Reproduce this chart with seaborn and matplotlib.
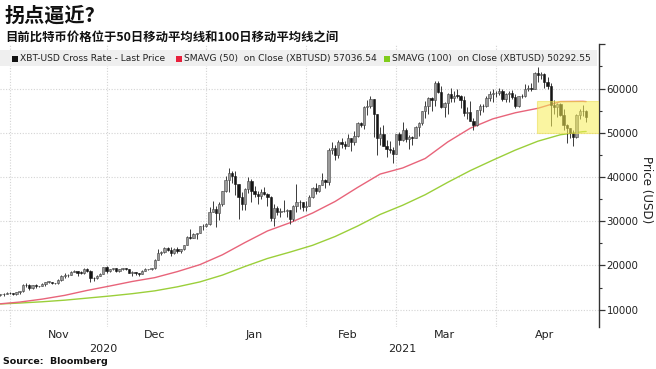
import numpy as np
import pandas as pd
import matplotlib
matplotlib.use("Agg")
import matplotlib.pyplot as plt
import matplotlib.dates as mdates
from matplotlib.patches import Rectangle
from matplotlib.ticker import FixedLocator, MultipleLocator
import seaborn as sns

# ---------------- data (prices in thousands of USD) ----------------
start_date = "2020-10-29"

open_k = [13.27, 13.46, 13.56,
          13.80, 13.74, 13.55, 13.95, 14.13, 15.58, 15.57, 14.83, 15.48, 15.33, 15.29, 15.70, 16.28, 16.32, 16.07,
          15.96, 16.72, 17.65, 17.80, 17.82, 18.62, 18.64, 18.37, 18.36, 19.11, 18.73, 17.15, 17.11, 17.72, 18.18,
          19.63, 18.80, 19.20, 19.45, 18.70, 19.15, 19.35, 19.19, 18.32, 18.55, 18.26, 18.06, 18.80, 19.14, 19.25,
          19.42, 21.31, 22.81, 23.14, 23.87, 23.48, 22.80, 23.78, 23.24, 23.74, 24.67, 26.44, 26.27, 27.08, 27.36, 28.84,
          29.00, 29.37, 32.13, 32.78, 31.97, 33.99, 36.82, 39.37, 40.80, 40.25, 38.36, 35.57, 33.92, 37.32, 39.19,
          36.83, 36.18, 35.79, 36.63, 36.07, 35.55, 30.83, 33.01, 32.07, 32.29, 32.37, 32.57, 30.43, 33.47, 34.32, 34.27,
          33.12, 33.54, 35.51, 37.47, 36.93, 38.14, 39.27, 38.90, 46.20, 46.48, 44.92, 47.91, 47.51, 47.11, 48.72,
          47.95, 49.20, 52.15, 51.68, 55.89, 56.10, 57.54, 54.21, 48.83, 49.71, 47.09, 46.34, 46.19,
          45.14, 49.63, 48.38, 50.54, 48.56, 48.93, 48.91, 51.21, 52.25, 54.82, 56.01, 57.81, 57.33, 61.24, 59.30,
          55.91, 56.80, 58.87, 57.86, 58.35, 58.31, 57.52, 54.53, 54.74, 52.77, 51.70, 55.14, 55.97, 55.95, 57.75, 58.80,
          58.92, 59.10, 59.38, 57.60, 58.76, 59.06, 58.19, 56.05, 58.32, 58.25, 59.79, 60.20, 59.89, 63.50, 63.11,
          63.32, 61.57, 60.68, 56.22, 55.72, 56.47, 53.91, 51.76, 51.09, 50.05, 49.00, 54.02, 55.03, 54.82]

high_k = [13.64, 13.68, 14.07,
          13.90, 13.82, 14.03, 14.23, 15.71, 15.96, 15.77, 15.65, 15.83, 15.46, 15.95, 16.33, 16.48, 16.32, 16.14,
          16.89, 17.82, 18.39, 18.11, 18.82, 18.92, 18.69, 18.75, 19.35, 19.37, 18.92, 17.46, 17.85, 18.28, 19.75,
          19.92, 19.31, 19.53, 19.50, 19.16, 19.40, 19.39, 19.29, 18.64, 18.56, 18.27, 18.92, 19.38, 19.31, 19.53,
          21.46, 23.64, 23.24, 24.09, 24.26, 24.06, 23.84, 24.09, 23.77, 24.71, 26.72, 28.29, 27.39, 27.37, 28.94, 29.30,
          29.60, 33.16, 34.61, 33.44, 34.44, 36.88, 40.18, 41.95, 41.38, 41.34, 38.40, 36.57, 37.60, 40.00, 39.63,
          37.86, 36.79, 37.30, 37.85, 36.42, 35.60, 33.81, 33.44, 32.94, 34.80, 32.75, 32.58, 33.76, 38.41, 34.88, 34.30,
          34.68, 35.87, 37.66, 38.59, 38.26, 40.85, 39.62, 46.45, 48.00, 47.15, 48.46, 48.87, 48.05, 49.72, 48.88,
          50.51, 52.53, 52.49, 56.11, 57.51, 58.33, 57.54, 54.25, 51.29, 51.77, 48.27, 48.25, 46.72,
          49.78, 50.13, 52.54, 51.10, 49.43, 49.20, 51.45, 52.37, 54.90, 57.26, 58.11, 58.01, 61.68, 61.60, 60.54,
          56.91, 58.97, 60.13, 59.45, 59.88, 58.59, 58.39, 55.85, 57.17, 53.23, 55.20, 56.57, 56.56, 58.40, 59.35, 59.80,
          59.47, 60.04, 59.89, 58.91, 59.45, 59.60, 58.73, 58.36, 58.77, 61.09, 60.69, 61.20, 63.76, 64.86, 63.82,
          63.59, 62.50, 61.21, 57.47, 56.82, 56.71, 55.44, 52.03, 51.17, 50.54, 54.35, 55.44, 56.37, 55.19]

low_k = [12.99, 13.13, 13.53,
         13.62, 13.24, 13.29, 13.53, 14.10, 15.21, 14.42, 14.73, 14.81, 15.09, 15.28, 15.44, 15.99, 15.72, 15.87,
         15.87, 16.57, 17.21, 17.34, 17.76, 18.43, 17.70, 18.02, 18.08, 18.60, 16.33, 16.56, 16.88, 17.52, 18.17,
         18.32, 18.59, 18.95, 18.62, 18.59, 18.92, 18.92, 18.27, 17.65, 17.91, 17.61, 18.04, 18.73, 19.00, 19.07,
         19.30, 21.23, 22.35, 22.83, 23.25, 22.16, 22.63, 22.80, 22.75, 23.46, 24.52, 25.92, 26.22, 25.99, 27.36, 28.00,
         28.80, 29.09, 32.05, 28.72, 30.22, 33.51, 36.50, 36.62, 38.72, 35.92, 30.55, 32.53, 32.58, 36.45, 34.45,
         35.38, 33.88, 34.96, 35.96, 33.43, 30.07, 28.95, 31.46, 30.97, 32.11, 30.87, 29.48, 30.03, 32.11, 32.87, 32.27,
         32.32, 33.44, 35.36, 36.20, 36.66, 38.14, 37.45, 38.08, 45.17, 43.87, 44.19, 46.50, 46.40, 47.02, 45.98,
         47.16, 48.97, 51.19, 50.94, 54.02, 55.61, 48.97, 45.00, 47.21, 47.05, 44.45, 45.32, 43.24,
         45.11, 47.23, 48.13, 47.86, 46.30, 47.17, 48.87, 49.29, 51.84, 53.29, 54.27, 54.96, 56.08, 59.03, 55.49,
         53.56, 54.15, 57.02, 56.97, 57.83, 55.49, 53.83, 53.08, 52.58, 50.55, 51.55, 53.96, 54.73, 55.90, 57.29, 56.94,
         58.00, 58.52, 57.17, 57.03, 56.96, 57.72, 55.60, 55.88, 57.80, 58.00, 59.37, 59.39, 59.89, 61.55, 62.21,
         60.22, 59.84, 51.56, 54.26, 53.61, 53.69, 50.55, 47.71, 48.81, 47.04, 48.87, 53.21, 53.89, 52.44]

close_k = [13.46, 13.56, 13.80,
           13.74, 13.55, 13.95, 14.13, 15.58, 15.57, 14.83, 15.48, 15.33, 15.29, 15.70, 16.28, 16.32, 16.07, 15.96,
           16.72, 17.65, 17.80, 17.82, 18.62, 18.64, 18.37, 18.36, 19.11, 18.73, 17.15, 17.11, 17.72, 18.18, 19.63,
           18.80, 19.20, 19.45, 18.70, 19.15, 19.35, 19.19, 18.32, 18.55, 18.26, 18.06, 18.80, 19.14, 19.25, 19.42,
           21.31, 22.81, 23.14, 23.87, 23.48, 22.80, 23.78, 23.24, 23.74, 24.67, 26.44, 26.27, 27.08, 27.36, 28.84, 29.00,
           29.37, 32.13, 32.78, 31.97, 33.99, 36.82, 39.37, 40.80, 40.25, 38.36, 35.57, 33.92, 37.32, 39.19, 36.83,
           36.18, 35.79, 36.63, 36.07, 35.55, 30.83, 33.01, 32.07, 32.29, 32.37, 32.57, 30.43, 33.47, 34.32, 34.27, 33.12,
           33.54, 35.51, 37.47, 36.93, 38.14, 39.27, 38.90, 46.20, 46.48, 44.92, 47.91, 47.51, 47.11, 48.72, 47.95,
           49.20, 52.15, 51.68, 55.89, 56.10, 57.54, 54.21, 48.83, 49.71, 47.09, 46.34, 46.19, 45.14,
           49.63, 48.38, 50.54, 48.56, 48.93, 48.91, 51.21, 52.25, 54.82, 56.01, 57.81, 57.33, 61.24, 59.30, 55.91,
           56.80, 58.87, 57.86, 58.35, 58.31, 57.52, 54.53, 54.74, 52.77, 51.70, 55.14, 55.97, 55.95, 57.75, 58.80, 58.92,
           59.10, 59.38, 57.60, 58.76, 59.06, 58.19, 56.05, 58.32, 58.25, 59.79, 60.20, 59.89, 63.50, 63.11, 63.32,
           61.57, 60.68, 56.22, 55.72, 56.47, 53.91, 51.76, 51.09, 50.05, 49.00, 54.02, 55.03, 54.82, 53.56]

sma_dates = ["2020-10-29", "2020-11-04", "2020-11-11", "2020-11-18", "2020-11-25", "2020-12-02", "2020-12-09",
             "2020-12-16", "2020-12-23", "2020-12-30", "2021-01-06", "2021-01-13", "2021-01-20", "2021-01-27",
             "2021-02-03", "2021-02-10", "2021-02-17", "2021-02-24", "2021-03-03", "2021-03-10", "2021-03-17",
             "2021-03-24", "2021-03-31", "2021-04-07", "2021-04-14", "2021-04-21", "2021-04-28", "2021-04-29"]
sma50_k = [11.33, 11.72, 12.39, 13.24, 14.36, 15.35, 16.38, 17.25, 18.61, 20.18, 22.41, 25.18, 27.80, 29.66,
           31.85, 34.46, 37.64, 40.66, 42.04, 44.18, 47.92, 51.03, 53.14, 54.52, 55.53, 57.05, 57.10, 57.04]
sma100_k = [11.29, 11.50, 11.79, 12.15, 12.62, 13.09, 13.62, 14.26, 15.17, 16.28, 17.82, 19.77, 21.58, 23.02,
            24.55, 26.54, 28.91, 31.53, 33.61, 35.99, 38.79, 41.44, 43.80, 46.08, 48.09, 49.55, 50.25, 50.29]

legend_labels = ["XBT-USD Cross Rate - Last Price",
                 "SMAVG (50)  on Close (XBTUSD) 57036.54",
                 "SMAVG (100)  on Close (XBTUSD) 50292.55"]
y_ticks = [10000, 20000, 30000, 40000, 50000, 60000, 70000]
month_labels = ["Nov", "Dec", "Jan", "Feb", "Mar", "Apr"]
year_labels = ["2020", "2021"]

# ---------------- frames ----------------
dates = pd.date_range(start_date, periods=len(close_k), freq="D")
px = pd.DataFrame({"date": dates,
                   "open": np.array(open_k) * 1000, "high": np.array(high_k) * 1000,
                   "low": np.array(low_k) * 1000, "close": np.array(close_k) * 1000})
sma = pd.DataFrame({"date": pd.to_datetime(sma_dates),
                    "sma50": np.array(sma50_k) * 1000, "sma100": np.array(sma100_k) * 1000})

# ---------------- style ----------------
sns.set_theme(style="white")
plt.rcParams["font.family"] = ["DejaVu Sans", "Noto Sans CJK SC"]

W, H = 656, 369
fig = plt.figure(figsize=(W / 100, H / 100), dpi=100)
fig.patch.set_facecolor("white")

ax_bottom = (H - 327.2) / H
ax_top = (H - 44.3) / H
ax_h_px = 327.2 - 44.3
ax = fig.add_axes([0, ax_bottom, 599 / W, ax_top - ax_bottom])
ax.set_facecolor("white")

x0 = mdates.date2num(pd.Timestamp("2020-11-01")) - 3.1
x1 = mdates.date2num(pd.Timestamp("2021-05-03"))
ax.set_xlim(x0, x1)
ax.set_ylim(6040, 70000)

# grid
for yv in y_ticks[:-1]:
    ax.axhline(yv, color="#d4d4d4", lw=0.8, ls=(0, (1, 1.5)), zorder=0)
for m in pd.date_range("2020-11-01", "2021-04-01", freq="MS"):
    ax.axvline(mdates.date2num(m), color="#d4d4d4", lw=0.8, ls=(0, (1, 1.5)), zorder=0)

# SMA lines
sns.lineplot(data=sma, x="date", y="sma100", color="#9bcf3a", lw=1.0, ax=ax, zorder=2)
sns.lineplot(data=sma, x="date", y="sma50", color="#e8647a", lw=1.0, ax=ax, zorder=2)

# candles
dn = mdates.date2num(px["date"])
up = px["close"] >= px["open"]
ax.vlines(dn, px["low"], px["high"], color="#3a3a3a", lw=0.7, zorder=3)
body_bot = np.minimum(px["open"], px["close"])
body_h = np.maximum(np.abs(px["close"] - px["open"]), 120)
ax.bar(dn, body_h, bottom=body_bot, width=0.72,
       color=np.where(up, "#9a9a9a", "#151515"),
       edgecolor=np.where(up, "#454545", "#151515"), linewidth=0.4, zorder=4)

# highlight box
hx0 = mdates.date2num(pd.Timestamp("2021-04-13")) + 0.7
ax.add_patch(Rectangle((hx0, 50000), x1 - hx0, 7200, facecolor="#f7ee55", alpha=0.55,
                       edgecolor="#eadc4a", lw=0.8, zorder=5))

# axes styling
for s in ["left", "top", "bottom"]:
    ax.spines[s].set_visible(False)
ax.spines["right"].set_color("#333333")
ax.spines["right"].set_linewidth(1.0)
ax.yaxis.tick_right()
ax.yaxis.set_major_locator(FixedLocator(y_ticks))
ax.set_yticklabels([str(v) for v in y_ticks[:-1]] + [""])
ax.yaxis.set_minor_locator(MultipleLocator(5000))
ax.tick_params(axis="y", which="major", direction="out", length=4, width=0.9, color="#333333",
               labelsize=7.4, labelcolor="#222222", pad=1.5, right=True, left=False)
ax.tick_params(axis="y", which="minor", direction="out", length=2.5, width=0.8, color="#333333",
               right=True, left=False)
ax.set_ylabel("")
ax.set_xlabel("")
ax.set_xticks([])

# month / year labels
mid_days = pd.to_datetime(["2020-11-16", "2020-12-16", "2021-01-16", "2021-02-14", "2021-03-16", "2021-04-16"])
for d, lab in zip(mid_days, month_labels):
    ax.text(mdates.date2num(d), -8.0 / ax_h_px, lab, transform=ax.get_xaxis_transform(),
            ha="center", va="center", fontsize=8, color="#222222")
yr_x = [(x0 + mdates.date2num(pd.Timestamp("2021-01-01"))) / 2,
        (mdates.date2num(pd.Timestamp("2021-01-01")) + x1) / 2]
for xv, lab in zip(yr_x, year_labels):
    ax.text(xv, -21.5 / ax_h_px, lab, transform=ax.get_xaxis_transform(),
            ha="center", va="center", fontsize=8, color="#222222")

# y axis title
fig.text(647 / W, 1 - 190 / H, "Price (USD)", rotation=270, ha="center", va="center",
         fontsize=8.6, color="#222222")

# legend bar
lg = fig.add_axes([0, 1 - 66 / H, 597 / W, 16 / H])
lg.set_facecolor("#efefef")
for s in lg.spines.values():
    s.set_visible(False)
lg.set_xticks([]); lg.set_yticks([])
lg.set_xlim(0, 597); lg.set_ylim(0, 16)
sq = [(12, "#111111"), (176, "#e8203c"), (384, "#80cc1c")]
tx = [20, 184, 392]
for (sx, c), t, lab in zip(sq, tx, legend_labels):
    lg.add_patch(Rectangle((sx, 4.5), 6, 6, facecolor=c, edgecolor="none"))
    lg.text(t, 7.8, lab, fontsize=6.55, va="center", ha="left", color="#222222")

# titles
fig.text(5 / W, 1 - 15 / H, "拐点逼近?", fontsize=14.5, fontweight="bold",
         family=["Noto Sans CJK SC", "DejaVu Sans"], ha="left", va="center", color="#111111")
fig.text(5 / W, 1 - 37 / H, "目前比特币价格位于50日移动平均线和100日移动平均线之间", fontsize=8.9,
         fontweight="bold", family=["Noto Sans CJK SC", "DejaVu Sans"], ha="left", va="center",
         color="#111111")
fig.text(3 / W, 1 - 362 / H, "Source:  Bloomberg", fontsize=6.8, fontweight="bold",
         ha="left", va="center", color="#111111")

fig.savefig("out.png", dpi=100, facecolor="white")
